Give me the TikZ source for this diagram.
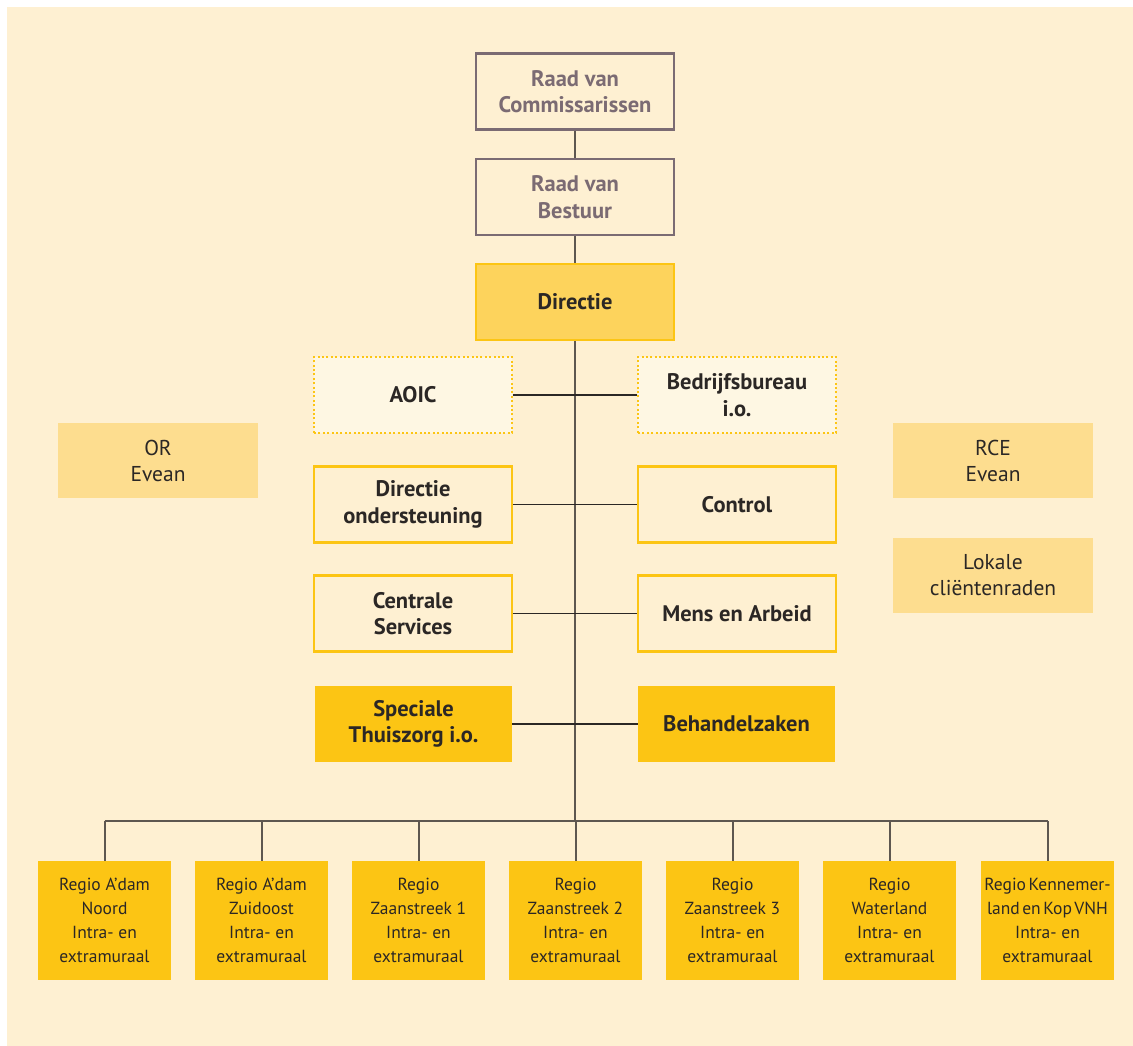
\documentclass[tikz,border=0pt]{standalone}
\usepackage{fontspec}
\setmainfont{PT Sans}
\definecolor{bg}{HTML}{FEF0D2}
\definecolor{paleyel}{HTML}{FEF7E3}
\definecolor{raad}{HTML}{7B6B73}
\definecolor{gold}{HTML}{FCC514}
\definecolor{dirfill}{HTML}{FDD35C}
\definecolor{side}{HTML}{FDDD8F}
\definecolor{txt}{HTML}{2B2725}
\definecolor{trunk}{HTML}{5E5750}
\begin{document}
\begin{tikzpicture}[x=1pt,y=-1pt,
  box/.style={minimum width=198pt,minimum height=76pt,inner sep=0pt,align=center,text=txt,font=\fontsize{22.5}{26.5}\selectfont\bfseries},
  raadbox/.style={box,draw=raad,line width=2.2pt,fill=bg,text=raad},
  dirbox/.style={box,draw=gold,line width=2.2pt,fill=dirfill},
  dotbox/.style={box,draw=gold,line width=2pt,dash pattern=on 2pt off 2.4pt,fill=paleyel},
  linebox/.style={box,draw=gold,line width=2.2pt,fill=bg},
  solidbox/.style={box,fill=gold,minimum width=197pt},
  sidebox/.style={minimum width=200pt,minimum height=75pt,inner sep=0pt,align=center,fill=side,text=txt,font=\fontsize{21.5}{26}\selectfont},
  regio/.style={minimum width=133pt,minimum height=119pt,inner sep=0pt,align=center,fill=gold,text=txt,font=\fontsize{17.5}{24}\selectfont},
  trunkline/.style={draw=trunk,line width=2pt},
  hline/.style={draw=txt,line width=1.4pt}
]
\useasboundingbox (0,0) rectangle (1133,1046);
\fill[bg] (7,7) rectangle (1133,1046);

\node[raadbox] (rvc) at (575,91.5) {Raad van\\Commissarissen};
\node[raadbox] (rvb) at (575,197) {Raad van\\Bestuur};
\node[dirbox] (dir) at (575,302) {Directie};

\node[dotbox] (aoic) at (413,395) {AOIC};
\node[dotbox] (bb) at (737,395) {Bedrijfsbureau\\i.o.};
\node[linebox] (do) at (413,504.5) {Directie\\ondersteuning};
\node[linebox] (ctrl) at (737,504.5) {Control};
\node[linebox] (cs) at (413,613.5) {Centrale\\Services};
\node[linebox] (mea) at (737,613.5) {Mens en Arbeid};
\node[solidbox] (st) at (413.5,724) {Speciale\\Thuiszorg i.o.};
\node[solidbox] (bz) at (736.5,724) {Behandelzaken};

\node[sidebox] (or) at (158,460.5) {OR\\Evean};
\node[sidebox] (rce) at (993,460.5) {RCE\\Evean};
\node[sidebox] (lok) at (993,575.5) {Lokale\\cliëntenraden};

\node[regio] (r1) at (104.5,920.5) {Regio A’dam\\Noord\\Intra- en\\extramuraal};
\node[regio] (r2) at (261.5,920.5) {Regio A’dam\\Zuidoost\\Intra- en\\extramuraal};
\node[regio] (r3) at (418.5,920.5) {Regio\\Zaanstreek 1\\Intra- en\\extramuraal};
\node[regio] (r4) at (575.5,920.5) {Regio\\Zaanstreek 2\\Intra- en\\extramuraal};
\node[regio] (r5) at (732.5,920.5) {Regio\\Zaanstreek 3\\Intra- en\\extramuraal};
\node[regio] (r6) at (889.5,920.5) {Regio\\Waterland\\Intra- en\\extramuraal};
\node[regio] (r7) at (1047.5,920.5) {{\spaceskip=2.5pt Regio Kennemer-}\\{\spaceskip=2.5pt land en Kop VNH}\\Intra- en\\extramuraal};

\coordinate (bus) at (575,821);

\draw[trunkline] (rvc.south) -- (rvb.north);
\draw[trunkline] (rvb.south) -- (dir.north);
\draw[trunkline] (dir.south) -- (bus);

\draw[hline] (aoic.east) -- (bb.west);
\draw[hline] (do.east) -- (ctrl.west);
\draw[hline] (cs.east) -- (mea.west);
\draw[hline] (st.east) -- (bz.west);

\draw[trunkline] (r1.north |- bus) -- (r7.north |- bus);
\foreach \r in {r1,r2,r3,r4,r5,r6,r7}
  \draw[trunkline] (\r.north) -- (\r.north |- bus);
\end{tikzpicture}
\end{document}
